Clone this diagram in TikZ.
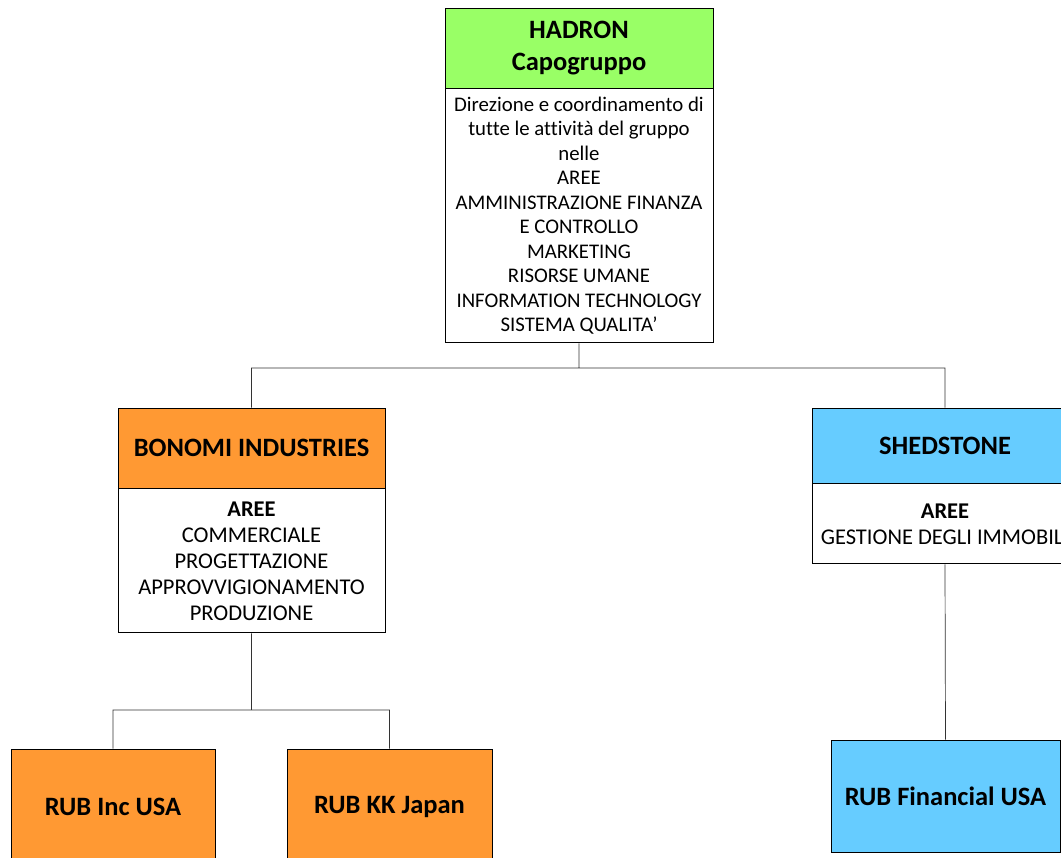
\documentclass[tikz,border=0pt]{standalone}
\usepackage{fontspec}
\setmainfont{Carlito}[Ligatures=NoCommon]
\usepackage{xcolor}
\usetikzlibrary{positioning}

\definecolor{hadrongreen}{RGB}{153,255,102}
\definecolor{bonomiorange}{RGB}{255,153,51}
\definecolor{shedblue}{RGB}{102,204,255}

\begin{document}
\begin{tikzpicture}[x=1pt,y=-1pt,
    head node/.style={draw,line width=0.9pt,inner sep=2pt,align=center,
      font=\fontsize{26.5}{32}\selectfont\bfseries},
    body node/.style={draw,line width=0.9pt,fill=white,inner sep=2pt,align=center,
      font=\fontsize{20.8}{24.5}\selectfont},
    leaf node/.style={draw,line width=0.9pt,inner sep=2pt,align=center,
      font=\fontsize{26.5}{32}\selectfont\bfseries},
    link/.style={draw,line width=0.7pt,black!80}]
        \clip (0,0) rectangle (1061,858);
        \fill[white] (0,0) rectangle (1061,858);
        % capogruppo
        \node[head node,fill=hadrongreen,minimum width=268pt,minimum height=80pt] (hadron) at (579,48) {HADRON\\Capogruppo};
        \node[body node,minimum width=268pt,minimum height=254pt,below=0pt of hadron] (hadronbody) {Direzione e coordinamento di\\tutte le attività del gruppo\\nelle\\AREE\\AMMINISTRAZIONE FINANZA\\E CONTROLLO\\MARKETING\\RISORSE UMANE\\INFORMATION TECHNOLOGY\\SISTEMA QUALITA’};
        % controllate
        \node[head node,fill=bonomiorange,minimum width=267pt,minimum height=80pt] (bonomi) at (251.5,448) {BONOMI INDUSTRIES};
        \node[body node,font=\fontsize{22.5}{26}\selectfont,minimum width=267pt,minimum height=144pt,below=0pt of bonomi] (bonomibody) {\textbf{AREE}\\COMMERCIALE\\PROGETTAZIONE\\APPROVVIGIONAMENTO\\PRODUZIONE};
        \node[head node,fill=shedblue,minimum width=266pt,minimum height=75pt] (shedstone) at (945,445.5) {SHEDSTONE};
        \node[body node,font=\fontsize{22.5}{26}\selectfont,minimum width=266pt,minimum height=80pt,below=0pt of shedstone] (shedstonebody) {\textbf{AREE}\\GESTIONE DEGLI IMMOBILI};
        % partecipate
        \node[leaf node,fill=bonomiorange,minimum width=204pt,minimum height=116pt] (rubinc) at (113,807) {RUB Inc USA};
        \node[leaf node,fill=bonomiorange,minimum width=205pt,minimum height=116pt] (rubkk) at (389.5,807) {RUB KK Japan};
        \node[leaf node,fill=shedblue,minimum width=229pt,minimum height=112pt] (rubfin) at (945.5,796) {RUB Financial USA};
        % collegamenti
        \coordinate (split1) at (579,368);
        \coordinate (split2) at (251.5,710);
        \path[link]
          (hadronbody.south) -- (split1)
          (split1) -| (bonomi.north)
          (split1) -| (shedstone.north)
          (bonomibody.south) -- (split2)
          (split2) -| (rubinc.north)
          (split2) -| (rubkk.north)
          (shedstonebody.south) -- (rubfin.north);
      \end{tikzpicture}
\end{document}
